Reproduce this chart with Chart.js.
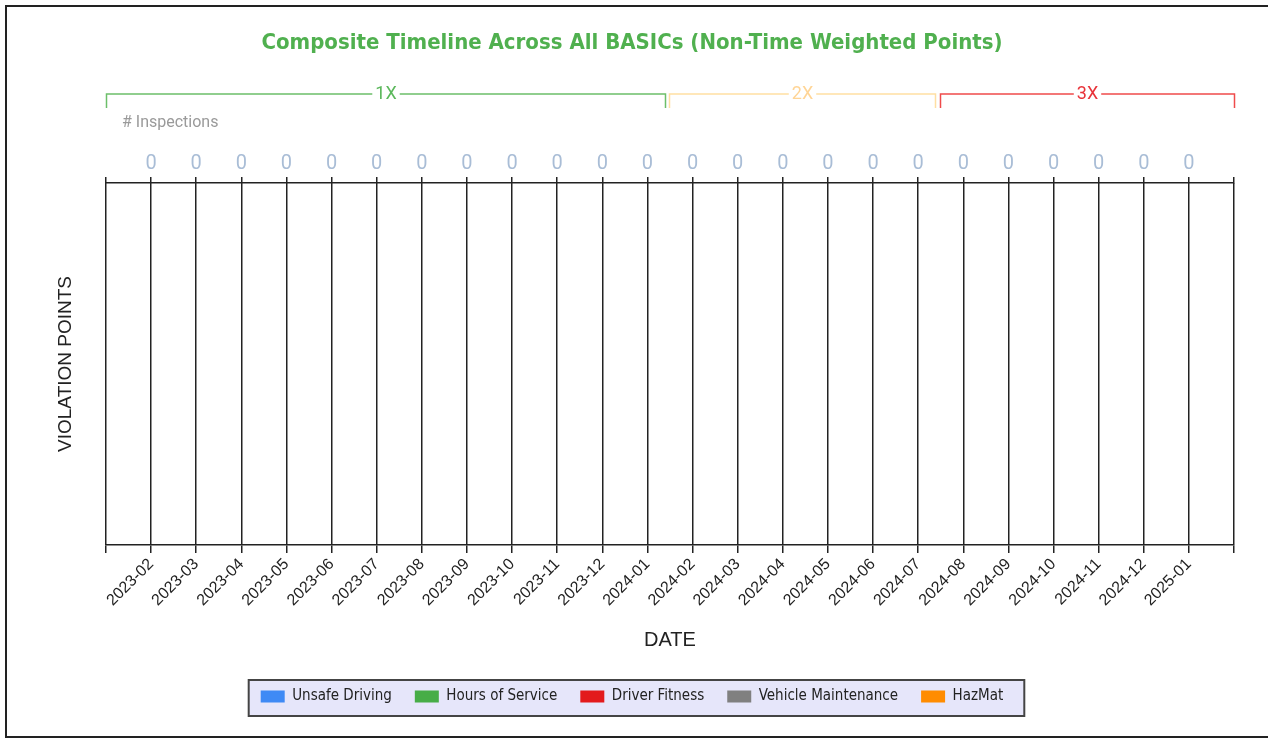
<!DOCTYPE html>
<html>
<head>
<meta charset="utf-8">
<title>Composite Timeline</title>
<script src="https://cdn.jsdelivr.net/npm/chart.js@4.4.1/dist/chart.umd.min.js"></script>
<style>
    html, body { margin: 0; padding: 0; background: #fff; }
    #timelineChart { position: absolute; left: 0; top: 0; }
</style>
</head>
<body>
<canvas id="timelineChart" width="1268" height="738"></canvas>
<script>
// month slots 1..24 on the x axis (0 and 25 are the unlabeled edges)
var months = ['2023-02', '2023-03', '2023-04', '2023-05', '2023-06', '2023-07', '2023-08', '2023-09',
    '2023-10', '2023-11', '2023-12', '2024-01', '2024-02', '2024-03', '2024-04', '2024-05',
    '2024-06', '2024-07', '2024-08', '2024-09', '2024-10', '2024-11', '2024-12', '2025-01'];
var inspections = [0, 0, 0, 0, 0, 0, 0, 0, 0, 0, 0, 0, 0, 0, 0, 0, 0, 0, 0, 0, 0, 0, 0, 0];

var basicNames = ['Unsafe Driving', 'Hours of Service', 'Driver Fitness', 'Vehicle Maintenance', 'HazMat'];
var unsafeDriving = [0, 0, 0, 0, 0, 0, 0, 0, 0, 0, 0, 0, 0, 0, 0, 0, 0, 0, 0, 0, 0, 0, 0, 0];
var hoursOfService = [0, 0, 0, 0, 0, 0, 0, 0, 0, 0, 0, 0, 0, 0, 0, 0, 0, 0, 0, 0, 0, 0, 0, 0];
var driverFitness = [0, 0, 0, 0, 0, 0, 0, 0, 0, 0, 0, 0, 0, 0, 0, 0, 0, 0, 0, 0, 0, 0, 0, 0];
var vehicleMaintenance = [0, 0, 0, 0, 0, 0, 0, 0, 0, 0, 0, 0, 0, 0, 0, 0, 0, 0, 0, 0, 0, 0, 0, 0];
var hazMat = [0, 0, 0, 0, 0, 0, 0, 0, 0, 0, 0, 0, 0, 0, 0, 0, 0, 0, 0, 0, 0, 0, 0, 0];

// time weight brackets, in x axis units
var weightLabels = ['1X', '2X', '3X'];
var weightStart = [0, 12.48, 18.48];
var weightEnd = [12.39, 18.37, 25];

(function () {
    var canvas = document.getElementById('timelineChart');
    if (!canvas || typeof Chart === 'undefined') {
        return;
    }

    var basicColors = ['#3f8af5', '#47ad47', '#e31a1c', '#808080', '#ff8c00'];
    var weightColors = ['#6cbf6a', '#ffdfa3', '#ef4b4b'];
    var weightTextColors = ['#5cb85c', '#ffd596', '#e8333a'];
    var seriesValues = [unsafeDriving, hoursOfService, driverFitness, vehicleMaintenance, hazMat];

    function toPoints(values) {
        return values.map(function (v, i) {
            return { x: i + 1, y: v };
        });
    }

    function monthLabel(value) {
        var idx = Math.round(value) - 1;
        return months[idx] !== undefined ? months[idx] : '';
    }

    function inspectionLabel(value) {
        var idx = Math.round(value) - 1;
        return inspections[idx] !== undefined ? String(inspections[idx]) : '';
    }

    var datasets = basicNames.map(function (name, i) {
        return {
            label: name,
            data: toPoints(seriesValues[i]),
            backgroundColor: basicColors[i],
            borderWidth: 0,
            xAxisID: 'x',
            stack: 'basics'
        };
    });

    // frame, legend background, brackets and "# Inspections"
    var decorations = {
        id: 'decorations',
        beforeDraw: function (chart) {
            var ctx = chart.ctx;
            ctx.save();
            ctx.fillStyle = '#ffffff';
            ctx.fillRect(0, 0, chart.width, chart.height);
            ctx.lineWidth = 2;
            ctx.strokeStyle = '#222';
            ctx.strokeRect(6, 6, chart.width + 10, 731);

            var boxes = chart.legend.legendHitBoxes;
            if (boxes && boxes.length) {
                var left = boxes[0].left - 12;
                var last = boxes[boxes.length - 1];
                var right = last.left + last.width + 21;
                var top = boxes[0].top - 9;
                var bottom = boxes[0].top + boxes[0].height + 12;
                ctx.fillStyle = '#e6e6fa';
                ctx.fillRect(left, top, right - left, bottom - top);
                ctx.strokeStyle = '#444';
                ctx.lineWidth = 2;
                ctx.strokeRect(left, top, right - left, bottom - top);
            }
            ctx.restore();
        },
        afterDraw: function (chart) {
            var ctx = chart.ctx;
            var scale = chart.scales.x;
            var lineY = chart.chartArea.top - 89;
            ctx.save();
            ctx.font = '18px Roboto';
            ctx.textAlign = 'center';
            ctx.textBaseline = 'middle';
            weightLabels.forEach(function (label, i) {
                var x1 = Math.round(scale.getPixelForValue(weightStart[i])) + 0.5;
                var x2 = Math.round(scale.getPixelForValue(weightEnd[i])) + 0.5;
                var mid = (x1 + x2) / 2;
                var half = ctx.measureText(label).width / 2 + 3;
                ctx.strokeStyle = weightColors[i];
                ctx.lineWidth = 1.5;
                ctx.beginPath();
                ctx.moveTo(x1, lineY + 14);
                ctx.lineTo(x1, lineY);
                ctx.lineTo(mid - half, lineY);
                ctx.moveTo(mid + half, lineY);
                ctx.lineTo(x2, lineY);
                ctx.lineTo(x2, lineY + 14);
                ctx.stroke();
                ctx.fillStyle = weightTextColors[i];
                ctx.fillText(label, mid, lineY);
            });
            ctx.font = '16px Roboto';
            ctx.textAlign = 'left';
            ctx.fillStyle = '#9a9a9a';
            ctx.fillText('# Inspections', chart.chartArea.left + 16, chart.chartArea.top - 60);
            ctx.restore();
        }
    };

    new Chart(canvas.getContext('2d'), {
        type: 'bar',
        data: { datasets: datasets },
        options: {
            responsive: false,
            animation: false,
            devicePixelRatio: 1,
            layout: { padding: { left: 30, right: 34, top: 0, bottom: 24 } },
            plugins: {
                title: {
                    display: true,
                    text: 'Composite Timeline Across All BASICs (Non-Time Weighted Points)',
                    color: '#50b04f',
                    font: { family: 'DejaVu Sans Condensed', size: 22, weight: 'bold' },
                    padding: { top: 30, bottom: 94.6 }
                },
                legend: {
                    position: 'bottom',
                    labels: {
                        color: '#222',
                        font: { family: 'DejaVu Sans Condensed', size: 15 },
                        boxWidth: 24,
                        boxHeight: 12,
                        padding: 23
                    }
                },
                tooltip: { enabled: false }
            },
            scales: {
                x: {
                    type: 'linear',
                    position: 'bottom',
                    offset: false,
                    min: 0,
                    max: 25,
                    grid: { offset: false, color: '#222', lineWidth: 1.5, tickLength: 8 },
                    border: { color: '#222', width: 1.5 },
                    ticks: {
                        stepSize: 1,
                        autoSkip: false,
                        minRotation: 45,
                        maxRotation: 45,
                        padding: 2,
                        color: '#222',
                        font: { family: 'Liberation Sans', size: 16 },
                        callback: monthLabel
                    },
                    title: {
                        display: true,
                        text: 'DATE',
                        color: '#222',
                        font: { family: 'Liberation Sans', size: 20 },
                        padding: { top: 16, bottom: 14 }
                    }
                },
                x2: {
                    type: 'linear',
                    position: 'top',
                    offset: false,
                    min: 0,
                    max: 25,
                    grid: { offset: false, drawOnChartArea: false, color: '#222', lineWidth: 1.5, tickLength: 6 },
                    border: { color: '#222', width: 1.5 },
                    ticks: {
                        stepSize: 1,
                        autoSkip: false,
                        maxRotation: 0,
                        padding: 1,
                        color: '#a9bdd6',
                        font: { family: 'Roboto', size: 20 },
                        callback: inspectionLabel
                    }
                },
                y: {
                    min: 0,
                    max: 10,
                    stacked: true,
                    grid: { display: false, drawTicks: false },
                    border: { display: false },
                    ticks: { display: false },
                    title: {
                        display: true,
                        text: 'VIOLATION POINTS',
                        color: '#222',
                        font: { family: 'Liberation Sans', size: 19 },
                        padding: { top: 24.6, bottom: 28.6 }
                    }
                }
            }
        },
        plugins: [decorations]
    });
})();
</script>
</body>
</html>
